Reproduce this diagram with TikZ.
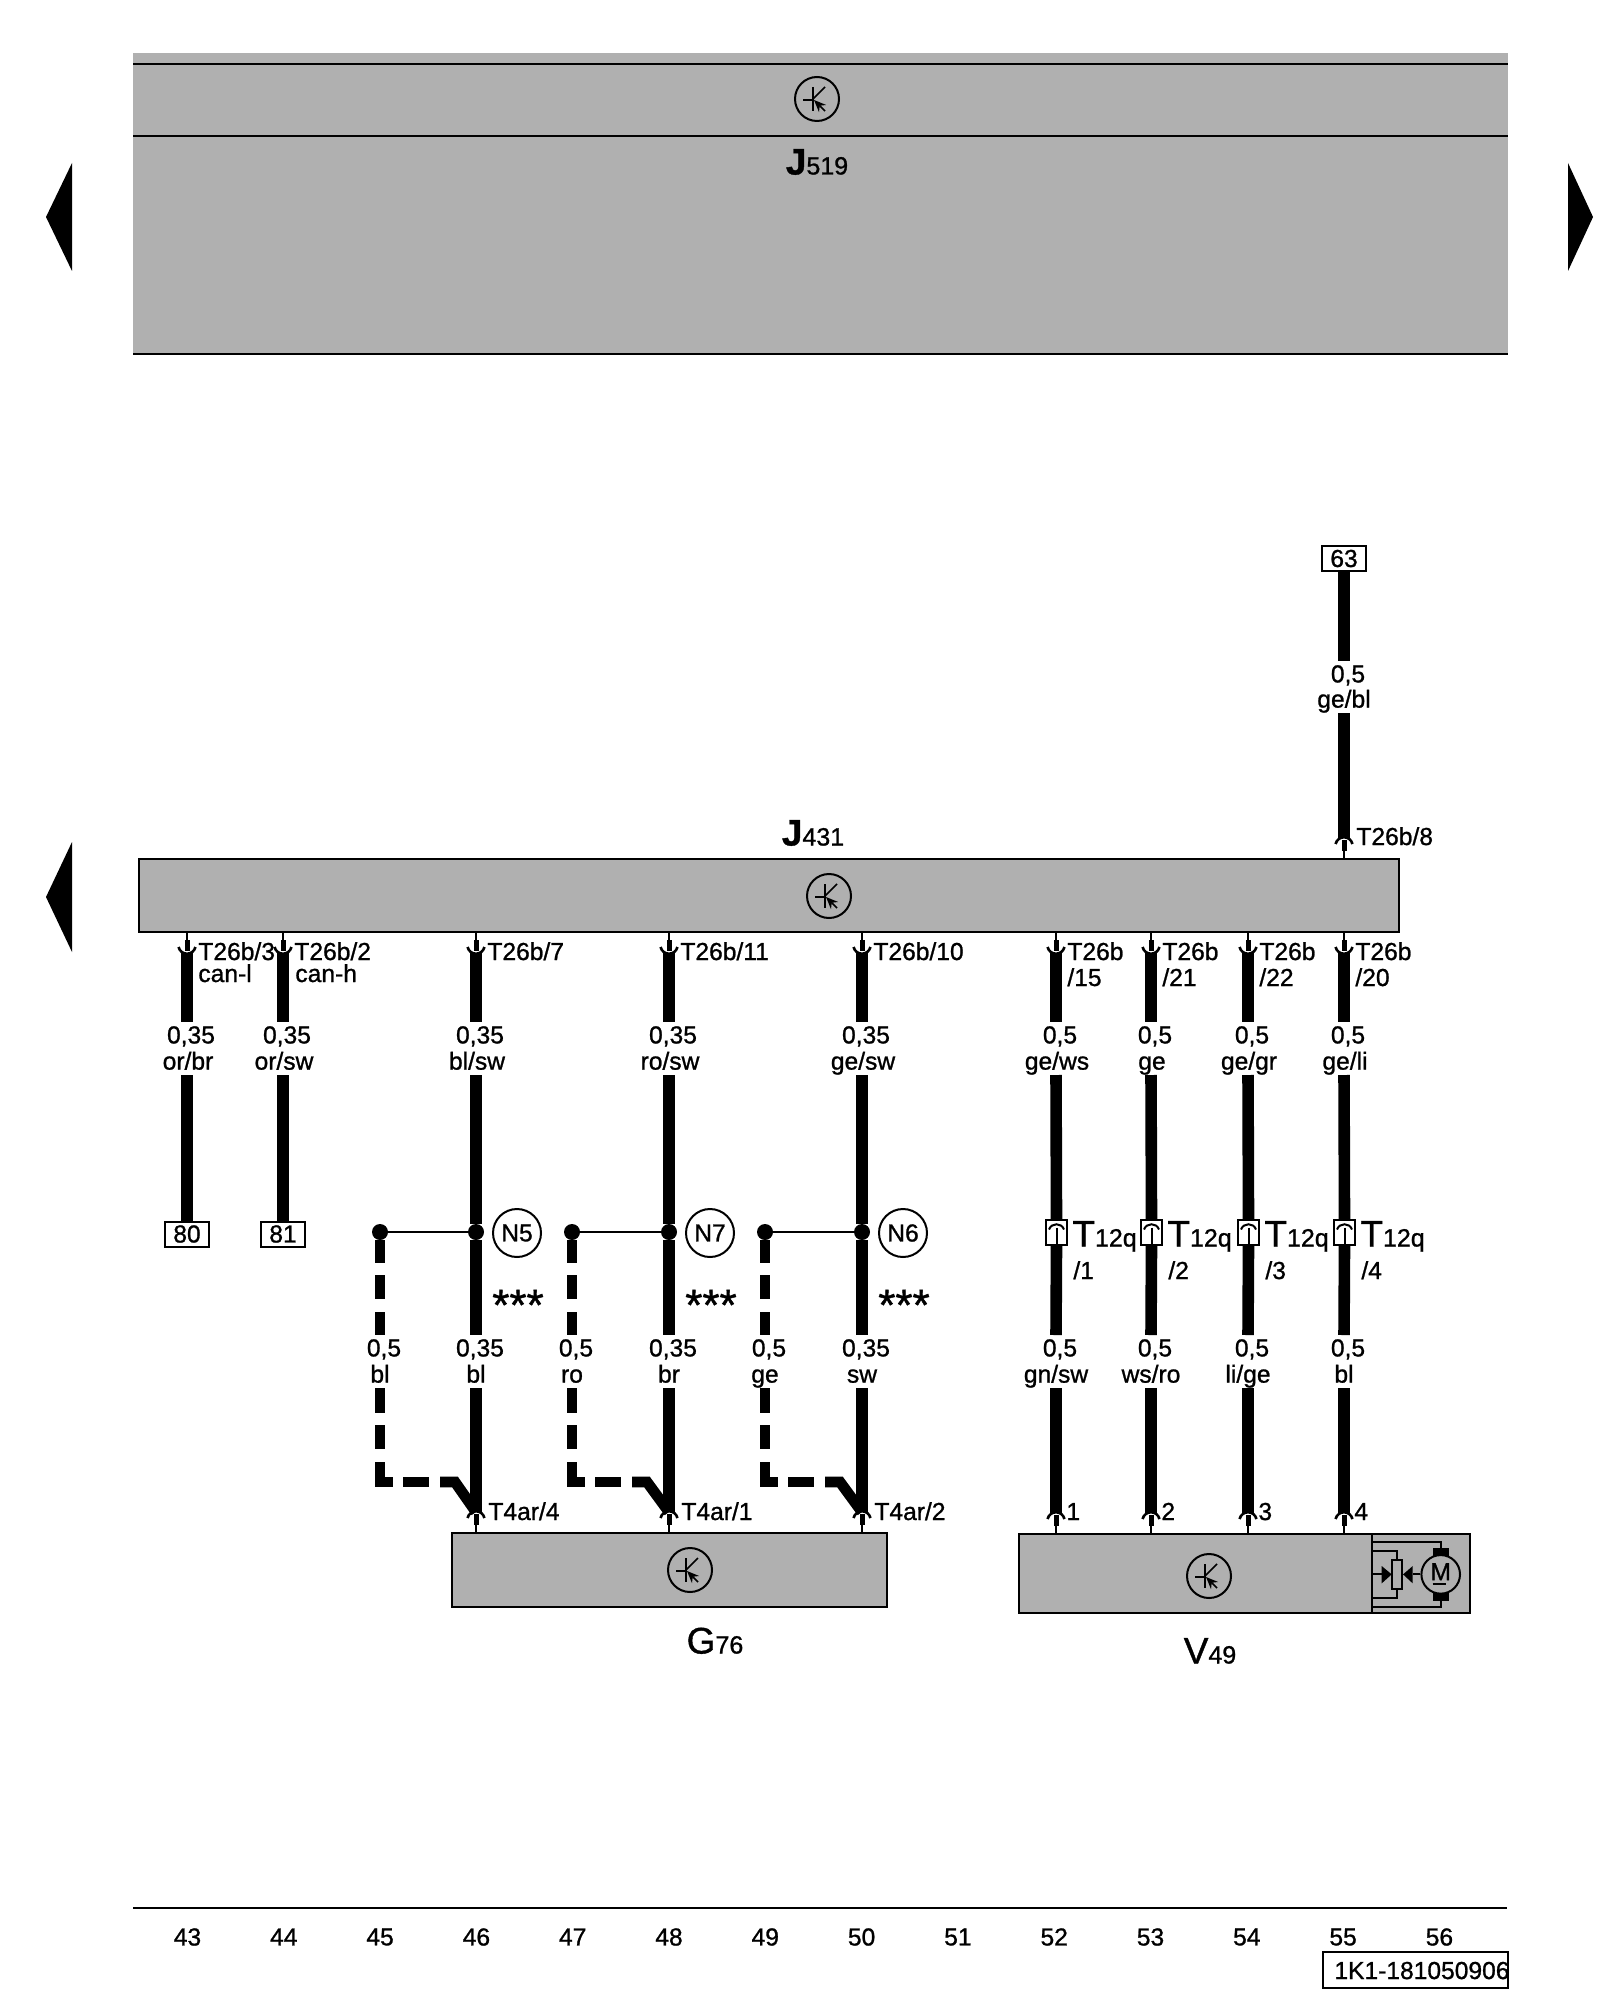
\documentclass[tikz,border=0pt]{standalone}
\usepackage{fontspec}
\setmainfont{Liberation Sans}[RawFeature={embolden=1}]
\usetikzlibrary{arrows.meta}
\definecolor{ecugray}{HTML}{B0B0B0}
\newcommand{\partlab}[2]{{\fontsize{18.5}{20}\selectfont #1}{\fontsize{12.5}{14}\selectfont #2}}
\tikzset{
    wire/.style={line width=5.8pt},
    dashwire/.style={line width=5.4pt,line join=miter},
    thinwire/.style={line width=0.75pt},
    frameline/.style={line width=1.1pt},
    textbase/.style={font=\fontsize{12.3}{14}\selectfont,inner sep=0pt},
    pinlab/.style={textbase,anchor=west,text height=9pt,text depth=0pt},
    sizelab/.style={textbase,inner ysep=1.5pt,text height=9pt,text depth=0pt,anchor=north},
    collab/.style={textbase,inner ysep=1pt,text height=9pt,text depth=1.5pt,anchor=south},
    partname/.style={inner sep=0pt,text height=13.5pt,text depth=0pt},
    ecubox/.style={draw,frameline,fill=ecugray,inner sep=0pt,outer sep=0pt,anchor=north west},
    termbox/.style={textbase,draw,line width=1pt,fill=white,minimum width=22pt,minimum height=12.5pt},
    plugbox/.style={draw,line width=1pt,fill=white,inner sep=0pt,minimum width=10.5pt,minimum height=12.5pt},
    joint/.style={circle,fill=black,inner sep=0pt,minimum size=8pt},
    ncircle/.style={textbase,circle,draw,line width=1pt,minimum size=24pt},
    socket/.pic={
        \draw[line width=0.75pt] (0,0) -- (0,8);
        \draw[line width=2.5pt] (0,8) -- (0,19);
        \draw[line width=1.3pt] (-8.5,15) .. controls (-6,24) and (6,24) .. (8.5,15);
    },
    plugmark/.pic={
        \draw[line width=1pt] (-7.5,-3) .. controls (-5,-10) and (5,-10) .. (7.5,-3);
        \draw[line width=1pt] (0,-5) -- (0,12);
    },
    ecusym/.pic={
        \draw[line width=1pt] (0,0) circle (22);
        \draw[thinwire] (-14,1) -- (-4,1);
        \draw[thinwire] (-4,-12) -- (-4,12);
        \draw[thinwire] (-4,0) -- (8,-12);
        \draw[thinwire,-{Stealth[length=6pt,width=5pt]}] (8,12) -- (-3,1);
    }
}
\begin{document}
\begin{tikzpicture}[x=0.5pt,y=-0.5pt]
    \useasboundingbox (0,0) rectangle (1600,2000);

    \node[fill=ecugray,inner sep=0pt,outer sep=0pt,anchor=north west,minimum width=687.5pt,minimum height=150.5pt] (J519) at (133,53) {};
    \draw[frameline] (133,64) -- (1508,64);
    \draw[frameline] (133,136) -- (1508,136);
    \draw[frameline] (J519.south west) -- (J519.south east);
    \pic at (817,99) {ecusym};
    \node[partname] (J519name) at (817,161) {\partlab{\bfseries J}{519}};

    \fill (72,163) -- (46,217) -- (72,271) -- cycle;
    \fill (1568,163) -- (1593,217) -- (1568,271) -- cycle;
    \fill (72,842) -- (46,897) -- (72,952) -- cycle;

    \node[ecubox,minimum width=630pt,minimum height=36.5pt] (J431) at (139,859) {};
    \pic at (829,896) {ecusym};
    \node[partname] (J431name) at (813,832) {\partlab{\bfseries J}{431}};

    \node[ecubox,minimum width=217.5pt,minimum height=37pt] (G76) at (452,1533) {};
    \pic at (690,1570) {ecusym};
    \node[partname] (G76name) at (715,1640) {\partlab{G}{76}};

    \node[ecubox,minimum width=225.5pt,minimum height=39.5pt] (V49) at (1019,1534) {};
    \pic at (1209,1576) {ecusym};
    \node[partname] (V49name) at (1210,1650) {\partlab{V}{49}};

    \foreach \x/\s/\c in {187/{0,35}/{or/br},283/{0,35}/{or/sw},476/{0,35}/{bl/sw},669/{0,35}/{ro/sw},862/{0,35}/{ge/sw},1056/{0,5}/{ge/ws},1151/{0,5}/{ge},1248/{0,5}/{ge/gr},1344/{0,5}/{ge/li}}
    {
        \pic at (\x,0 |- J431.south) {socket};
        \coordinate (pin\x) at (\x,953);
        \coordinate (a\x) at (\x,1022);
        \coordinate (b\x) at (\x,1075);
        \draw[wire] (pin\x) -- (a\x);
        \node[sizelab] (s\x) at ([xshift=2pt]a\x) {\s};
        \node[collab] (c\x) at ([xshift=0.5pt]b\x) {\c};
    }

    \foreach \x/\s/\c in {380/{0,5}/{bl},476/{0,35}/{bl},572/{0,5}/{ro},669/{0,35}/{br},765/{0,5}/{ge},862/{0,35}/{sw},1056/{0,5}/{gn/sw},1151/{0,5}/{ws/ro},1248/{0,5}/{li/ge},1344/{0,5}/{bl}}
    {
        \coordinate (aa\x) at (\x,1335);
        \coordinate (bb\x) at (\x,1388);
        \node[sizelab] (ss\x) at ([xshift=2pt]aa\x) {\s};
        \node[collab] (cc\x) at (bb\x) {\c};
    }

    \foreach \x/\n in {187/80,283/81}
    {
        \node[termbox] (term\n) at (\x,1234) {\n};
        \draw[wire] (b\x) -- (term\n);
    }

    \foreach \x/\d/\n/\p in {476/380/N5/4,669/572/N7/1,862/765/N6/2}
    {
        \pic[yscale=-1] at (\x,0 |- G76.north) {socket};
        \coordinate (end\x) at (\x,1512);
        \node[joint] (jr\x) at (\x,1232) {};
        \node[joint] (jl\x) at (\d,1232) {};
        \draw[thinwire] (jl\x) -- (jr\x);
        \draw[wire] (b\x) -- (jr\x) -- (aa\x);
        \draw[wire] (bb\x) -- (end\x);
        \draw[dashwire] (jl\x) -- (\d,1263);
        \draw[dashwire] (\d,1275) -- (\d,1299);
        \draw[dashwire] (\d,1312) -- (aa\d);
        \draw[dashwire] (bb\d) -- (\d,1413);
        \draw[dashwire] (\d,1425) -- (\d,1449);
        \draw[dashwire] (\d,1462) -- (\d,1482) -- (\d+13,1482);
        \draw[dashwire] (\d+23,1482) -- (\d+49,1482);
        \draw[dashwire] (\d+60,1482) -- (\d+75,1482) -- (end\x);
        \node[ncircle] (c\n) at (\x+41,1233) {\n};
        \node[font=\fontsize{22}{24}\selectfont,inner sep=0pt] (star\n) at (\x+42,1305) {***};
        \node[pinlab] (pinG\p) at (\x+12,1511) {T4ar/\p};
    }

    \foreach \x/\n in {1056/1,1151/2,1248/3,1344/4}
    {
        \pic[yscale=-1] at (\x,0 |- V49.north) {socket};
        \coordinate (end\x) at (\x,1513);
        \node[plugbox] (plug\x) at (\x+0.5,1232.5) {};
        \pic at (\x+0.5,1232.5) {plugmark};
        \draw[wire] (b\x) -- (plug\x.north);
        \draw[wire] (plug\x.south) -- (aa\x);
        \draw[wire] (bb\x) -- (end\x);
        \node[pinlab,text height=13.5pt] (T\n) at (\x+16,1233) {\partlab{T}{12q}};
        \node[pinlab] (Tp\n) at (\x+17,1270) {/\n};
        \node[pinlab] (pinV\n) at (\x+10,1511) {\n};
    }

    \foreach \x/\t in {187/{T26b/3},283/{T26b/2},476/{T26b/7},669/{T26b/11},862/{T26b/10},1056/{T26b},1151/{T26b},1248/{T26b},1344/{T26b}}
    {
        \node[pinlab] (t\x) at (\x+11,951) {\t};
    }
    \node[pinlab] (can187) at (198,973) {can-l};
    \node[pinlab] (can283) at (295,973) {can-h};
    \foreach \x/\t in {1056/15,1151/21,1248/22,1344/20}
    {
        \node[pinlab] (tt\x) at (\x+11,977) {/\t};
    }

    \pic[yscale=-1] at (1344,0 |- J431.north) {socket};
    \node[termbox] (term63) at (1344,558.5) {63};
    \coordinate (a63) at (1344,661);
    \coordinate (b63) at (1344,713);
    \coordinate (end63) at (1344,838);
    \draw[wire] (term63) -- (a63);
    \draw[wire] (b63) -- (end63);
    \node[sizelab] (s63) at ([xshift=2pt]a63) {0,5};
    \node[collab] (c63) at (b63) {ge/bl};
    \node[pinlab] (t63) at (1356,836) {T26b/8};

    \begin{scope}[shift={(1280,1480)},x=0.1667pt,y=-0.1667pt]
        \draw[line width=1pt] (277,187) -- (482,187) -- (482,205);
        \draw[line width=1pt] (277,380) -- (482,380) -- (482,362);
        \fill (458,203) rectangle (508,228);
        \fill (458,338) rectangle (508,362);
        \node[draw,circle,line width=1pt,inner sep=0pt,minimum size=19.3pt,fill=ecugray] (motor) at (482,283) {};
        \node[textbase] (mletter) at (482,275) {M};
        \draw[line width=0.9pt] (458,312) -- (497,312);
        \draw[line width=1pt] (277,212) -- (352,212) -- (352,240);
        \draw[line width=1pt] (352,328) -- (352,355) -- (277,355);
        \draw[line width=1pt,fill=ecugray] (335,240) rectangle (367,328);
        \draw[line width=1pt] (277,283) -- (305,283);
        \fill (305,258) -- (335,283) -- (305,310) -- cycle;
        \draw[line width=1pt] (motor) -- (398,283);
        \fill (398,258) -- (369,283) -- (398,310) -- cycle;
    \end{scope}
    \draw[frameline] (1372,1534) -- (1372,1613);

    \draw[frameline] (133,1908) -- (1507,1908);
    \foreach \n [count=\k from 0] in {43,...,56}
    {
        \node[textbase] (col\n) at (\k*96.3+187.5,1937) {\n};
    }
    \node[textbase,draw,line width=1pt,anchor=north west,outer sep=0pt,minimum width=92.5pt,minimum height=18pt] (docbox) at (1323,1952) {};
    \node[pinlab] (docno) at (1334,1970) {1K1-181050906};
\end{tikzpicture}
\end{document}
